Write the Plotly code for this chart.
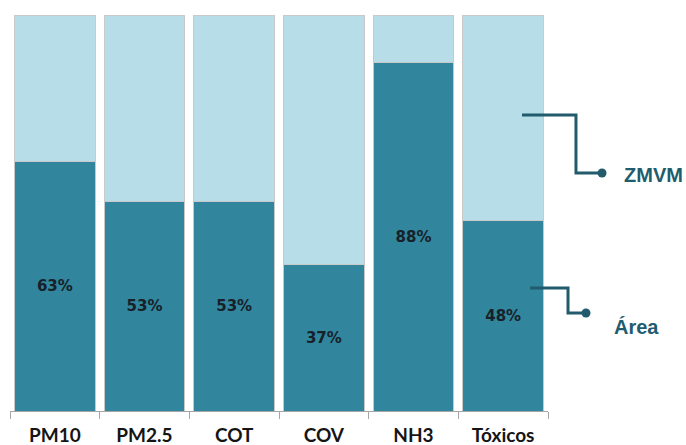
import plotly.graph_objects as go

categories = ["PM10", "PM2.5", "COT", "COV", "NH3", "Tóxicos"]
area_pct = [63, 53, 53, 37, 88, 48]
zmvm_pct = [100 - v for v in area_pct]
series_names = ["Área", "ZMVM"]

DARK = "#31859c"
LIGHT = "#b7dde8"
LINE = "#215b6c"
LABEL = "#1f5d6e"

fig = go.Figure()
fig.add_trace(go.Bar(
    x=categories, y=[v / 100 for v in area_pct], name=series_names[0],
    marker=dict(color=DARK, line=dict(color="#c9c9c9", width=1)),
    text=[f"{v}%" for v in area_pct], textposition="inside",
    insidetextanchor="middle",
    textfont=dict(family="DejaVu Sans", size=15, color="#17212a", weight="bold"),
))
fig.add_trace(go.Bar(
    x=categories, y=[v / 100 for v in zmvm_pct], name=series_names[1],
    marker=dict(color=LIGHT, line=dict(color="#c9c9c9", width=1)),
    hoverinfo="skip",
))

# connector callouts (paper coordinates)
callouts = [
    # label, start(x,y), corner x, end y, dot x, text x, text y
    ("ZMVM", 0.9517, 0.7475, 1.052, 0.601, 1.1004, 1.137, 0.596),
    ("Área", 0.9665, 0.3106, 1.0372, 0.2475, 1.0706, 1.119, 0.212),
]
shapes = []
annotations = []
for lab, xs, ys, xc, ye, xd, xt, yt in callouts:
    shapes.append(dict(type="path", xref="paper", yref="paper",
                       path=f"M {xs},{ys} L {xc},{ys} L {xc},{ye} L {xd},{ye}",
                       line=dict(color=LINE, width=3)))
    shapes.append(dict(type="circle", xref="paper", yref="paper",
                       xsizemode="pixel", ysizemode="pixel",
                       xanchor=xd, yanchor=ye, x0=-4.5, x1=4.5, y0=-4.5, y1=4.5,
                       fillcolor=LINE, line=dict(color=LINE, width=0)))
    annotations.append(dict(text=f"<b>{lab}</b>", xref="paper", yref="paper",
                            x=xt, y=yt, xanchor="left", yanchor="middle",
                            showarrow=False,
                            font=dict(family="Liberation Sans", size=20, color=LABEL)))

fig.update_layout(
    barmode="stack", bargap=0.1,
    width=686, height=445, autosize=False,
    margin=dict(l=10, r=138, t=15, b=34),
    paper_bgcolor="white", plot_bgcolor="white",
    showlegend=False,
    shapes=shapes, annotations=annotations,
    xaxis=dict(showline=True, linecolor="#a6a6a6", linewidth=1,
               ticks="outside", tickson="boundaries", ticklen=7, tickcolor="#a6a6a6",
               ticklabelstandoff=7, automargin=False,
               tickfont=dict(family="Lato", size=19, color="#151515", weight="bold"),
               showgrid=False),
    yaxis=dict(range=[0, 1], visible=False, showgrid=False, automargin=False),
)

fig.write_html(
    "out.html",
    config={"displayModeBar": False, "responsive": False},
    post_script="document.body.style.margin='0';document.body.style.overflow='hidden';",
)
